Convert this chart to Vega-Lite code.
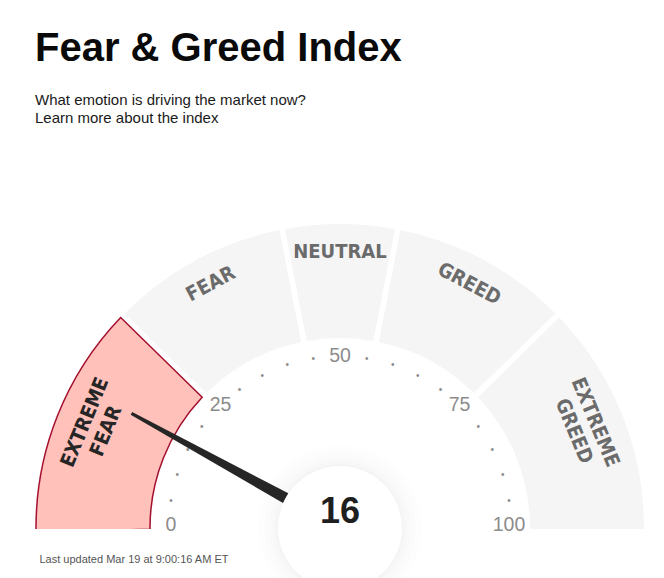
{
  "$schema": "https://vega.github.io/schema/vega-lite/v6.json",
  "width": 664,
  "height": 395,
  "autosize": {"type": "none"},
  "padding": {"left": 0, "top": 134, "right": 0, "bottom": 49},
  "background": "white",
  "config": {
    "view": {"stroke": null},
    "axisX": {
      "domain": false, "ticks": false, "labels": false, "grid": false,
      "titleFont": "Liberation Sans", "titleFontSize": 11, "titleFontWeight": "normal",
      "titleColor": "#555555", "titleAnchor": "start", "titleAlign": "left",
      "titleX": 39, "titleY": 33, "titleBaseline": "alphabetic"
    }
  },
  "title": {
    "text": "Fear & Greed Index",
    "subtitle": ["What emotion is driving the market now?", "Learn more about the index"],
    "anchor": "start",
    "frame": "group",
    "dx": 35,
    "offset": 8,
    "font": "Liberation Sans",
    "fontSize": 40,
    "fontWeight": "bold",
    "color": "#0a0a0a",
    "subtitleFont": "Liberation Sans",
    "subtitleFontSize": 15,
    "subtitleColor": "#1a1a1a",
    "subtitlePadding": 24,
    "subtitleLineHeight": 18.5
  },
  "datasets": {
    "segments": [
      {"name": "EXTREME FEAR", "start": 0, "end": 25},
      {"name": "FEAR", "start": 25, "end": 44},
      {"name": "NEUTRAL", "start": 44, "end": 56},
      {"name": "GREED", "start": 56, "end": 75},
      {"name": "EXTREME GREED", "start": 75, "end": 100}
    ],
    "dots": [
      {"v": 5}, {"v": 10}, {"v": 15}, {"v": 20},
      {"v": 30}, {"v": 35}, {"v": 40}, {"v": 45},
      {"v": 55}, {"v": 60}, {"v": 65}, {"v": 70},
      {"v": 80}, {"v": 85}, {"v": 90}, {"v": 95}
    ],
    "ticklabels": [
      {"v": 0}, {"v": 25}, {"v": 50}, {"v": 75}, {"v": 100}
    ],
    "current": [{"value": 16}]
  },
  "layer": [
    {
      "data": {"name": "segments"},
      "mark": {"type": "arc", "padAngle": 0.016, "clip": true, "strokeWidth": 1.5},
      "encoding": {
        "x": {"datum": 0, "type": "quantitative", "scale": {"domain": [-340, 324]}, "title": "Last updated Mar 19 at 9:00:16 AM ET"},
        "y": {"datum": 0, "type": "quantitative", "scale": {"domain": [-1, 394]}, "axis": null},
        "theta": {"field": "start", "type": "quantitative", "stack": null,
          "scale": {"domain": [0, 100], "range": [-1.5928, 1.5928]}},
        "theta2": {"field": "end"},
        "radius": {"value": 304},
        "radius2": {"value": 190},
        "fill": {"field": "name", "type": "nominal", "legend": null,
          "scale": {"domain": ["EXTREME FEAR", "FEAR", "NEUTRAL", "GREED", "EXTREME GREED"],
                    "range": ["#ffc1b9", "#f5f5f5", "#f5f5f5", "#f5f5f5", "#f5f5f5"]}},
        "stroke": {"condition": {"test": "datum.name === 'EXTREME FEAR'", "value": "#a40f2f"}, "value": null}
      }
    },
    {
      "data": {"name": "segments"},
      "transform": [{"calculate": "(datum.start + datum.end) / 2", "as": "mid"}],
      "mark": {"type": "text", "font": "DejaVu Sans Condensed", "fontWeight": "bold", "fontSize": 20, "align": "center", "baseline": "middle", "lineBreak": " ", "lineHeight": 23},
      "encoding": {
        "x": {"datum": 0, "type": "quantitative", "scale": {"domain": [-340, 324]}, "title": "Last updated Mar 19 at 9:00:16 AM ET"},
        "y": {"datum": 0, "type": "quantitative", "scale": {"domain": [-1, 394]}, "axis": null},
        "theta": {"field": "mid", "type": "quantitative", "stack": null,
          "scale": {"domain": [0, 100], "range": [-1.5707963, 1.5707963]}},
        "radius": {"condition": {"test": "indexof(datum.name, ' ') >= 0", "value": 267}, "value": 276},
        "angle": {"field": "mid", "type": "quantitative", "scale": {"domain": [0, 100], "range": [-90, 90]}, "legend": null},
        "text": {"field": "name"},
        "color": {"condition": {"test": "datum.name === 'EXTREME FEAR'", "value": "#262626"}, "value": "#6b6b6b"}
      }
    },
    {
      "data": {"name": "dots"},
      "mark": {"type": "text", "font": "Liberation Sans", "fontSize": 10, "align": "center", "baseline": "middle", "color": "#8a8a8a"},
      "encoding": {
        "x": {"datum": 0, "type": "quantitative", "scale": {"domain": [-340, 324]}, "title": "Last updated Mar 19 at 9:00:16 AM ET"},
        "y": {"datum": 0, "type": "quantitative", "scale": {"domain": [-1, 394]}, "axis": null},
        "theta": {"field": "v", "type": "quantitative", "stack": null,
          "scale": {"domain": [0, 100], "range": [-1.5707963, 1.5707963]}},
        "radius": {"value": 171},
        "text": {"value": "•"}
      }
    },
    {
      "data": {"name": "ticklabels"},
      "mark": {"type": "text", "font": "Liberation Sans", "fontSize": 19.5, "align": "center", "baseline": "middle", "dy": -3, "color": "#8c8c8c"},
      "encoding": {
        "x": {"datum": 0, "type": "quantitative", "scale": {"domain": [-340, 324]}, "title": "Last updated Mar 19 at 9:00:16 AM ET"},
        "y": {"datum": 0, "type": "quantitative", "scale": {"domain": [-1, 394]}, "axis": null},
        "theta": {"field": "v", "type": "quantitative", "stack": null,
          "scale": {"domain": [0, 100], "range": [-1.5707963, 1.5707963]}},
        "radius": {"value": 169},
        "text": {"field": "v", "type": "quantitative"}
      }
    },
    {
      "data": {"name": "current"},
      "mark": {"type": "arc", "fill": "#000000", "fillOpacity": 0.006},
      "encoding": {
        "x": {"datum": 0, "type": "quantitative", "scale": {"domain": [-340, 324]}, "title": "Last updated Mar 19 at 9:00:16 AM ET"},
        "y": {"datum": 0, "type": "quantitative", "scale": {"domain": [-1, 394]}, "axis": null},
        "theta": {"value": 0}, "theta2": {"value": 6.2832}, "radius": {"value": 82}
      }
    },
    {
      "data": {"name": "current"},
      "mark": {"type": "arc", "fill": "#000000", "fillOpacity": 0.006},
      "encoding": {
        "x": {"datum": 0, "type": "quantitative", "scale": {"domain": [-340, 324]}, "title": "Last updated Mar 19 at 9:00:16 AM ET"},
        "y": {"datum": 0, "type": "quantitative", "scale": {"domain": [-1, 394]}, "axis": null},
        "theta": {"value": 0}, "theta2": {"value": 6.2832}, "radius": {"value": 76}
      }
    },
    {
      "data": {"name": "current"},
      "mark": {"type": "arc", "fill": "#000000", "fillOpacity": 0.007},
      "encoding": {
        "x": {"datum": 0, "type": "quantitative", "scale": {"domain": [-340, 324]}, "title": "Last updated Mar 19 at 9:00:16 AM ET"},
        "y": {"datum": 0, "type": "quantitative", "scale": {"domain": [-1, 394]}, "axis": null},
        "theta": {"value": 0}, "theta2": {"value": 6.2832}, "radius": {"value": 71}
      }
    },
    {
      "data": {"name": "current"},
      "mark": {"type": "arc", "fill": "#000000", "fillOpacity": 0.008},
      "encoding": {
        "x": {"datum": 0, "type": "quantitative", "scale": {"domain": [-340, 324]}, "title": "Last updated Mar 19 at 9:00:16 AM ET"},
        "y": {"datum": 0, "type": "quantitative", "scale": {"domain": [-1, 394]}, "axis": null},
        "theta": {"value": 0}, "theta2": {"value": 6.2832}, "radius": {"value": 67}
      }
    },
    {
      "data": {"name": "current"},
      "mark": {"type": "arc", "fill": "#000000", "fillOpacity": 0.01},
      "encoding": {
        "x": {"datum": 0, "type": "quantitative", "scale": {"domain": [-340, 324]}, "title": "Last updated Mar 19 at 9:00:16 AM ET"},
        "y": {"datum": 0, "type": "quantitative", "scale": {"domain": [-1, 394]}, "axis": null},
        "theta": {"value": 0}, "theta2": {"value": 6.2832}, "radius": {"value": 64}
      }
    },
    {
      "data": {"name": "current"},
      "transform": [
        {"calculate": "-150 * cos(datum.value * PI / 100)", "as": "nx"},
        {"calculate": "150 * sin(datum.value * PI / 100)", "as": "ny"}
      ],
      "mark": {
        "type": "point",
        "shape": "M -1 -0.0625 L 1 -0.018 L 1 0.018 L -1 0.0625 Z",
        "filled": true,
        "fill": "#262626",
        "fillOpacity": 1,
        "opacity": 1,
        "strokeWidth": 0,
        "size": 30976
      },
      "encoding": {
        "x": {"field": "nx", "type": "quantitative", "scale": {"domain": [-340, 324]}, "title": "Last updated Mar 19 at 9:00:16 AM ET"},
        "y": {"field": "ny", "type": "quantitative", "scale": {"domain": [-1, 394]}, "axis": null},
        "angle": {"field": "value", "type": "quantitative", "scale": {"domain": [0, 100], "range": [180, 360]}, "legend": null}
      }
    },
    {
      "data": {"name": "current"},
      "mark": {"type": "arc", "fill": "#ffffff"},
      "encoding": {
        "x": {"datum": 0, "type": "quantitative", "scale": {"domain": [-340, 324]}, "title": "Last updated Mar 19 at 9:00:16 AM ET"},
        "y": {"datum": 0, "type": "quantitative", "scale": {"domain": [-1, 394]}, "axis": null},
        "theta": {"value": 0}, "theta2": {"value": 6.2832}, "radius": {"value": 62}
      }
    },
    {
      "data": {"name": "current"},
      "mark": {"type": "text", "font": "Liberation Sans", "fontWeight": "bold", "fontSize": 36, "align": "center", "baseline": "alphabetic", "dy": -5, "color": "#1f1f1f"},
      "encoding": {
        "x": {"datum": 0, "type": "quantitative", "scale": {"domain": [-340, 324]}, "title": "Last updated Mar 19 at 9:00:16 AM ET"},
        "y": {"datum": 0, "type": "quantitative", "scale": {"domain": [-1, 394]}, "axis": null},
        "text": {"field": "value", "type": "quantitative"}
      }
    }
  ],
  "resolve": {"scale": {"theta": "independent", "angle": "independent"}}
}
